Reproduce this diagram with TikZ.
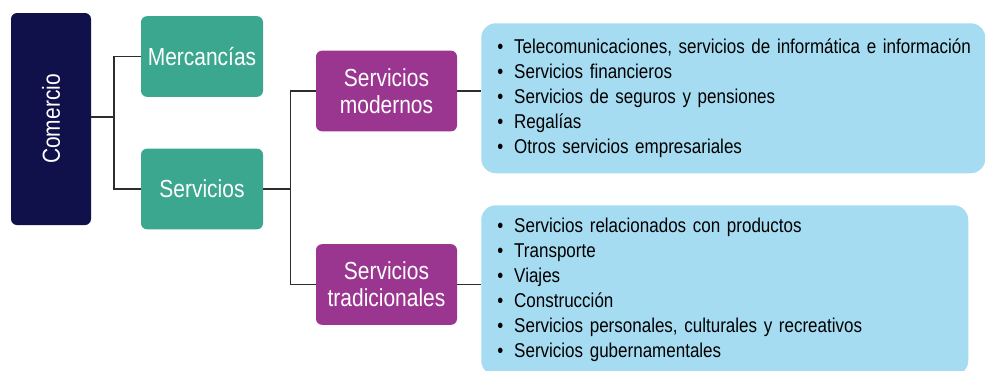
\documentclass[tikz,border=0pt]{standalone}
\usepackage{fontspec}
\setmainfont{Liberation Sans}[FakeStretch=0.85, WordSpace=0.8]
\usetikzlibrary{positioning,calc}
\definecolor{NavyColor}{RGB}{16,16,75}
\definecolor{TealColor}{RGB}{59,167,143}
\definecolor{PurpleColor}{RGB}{155,54,144}
\definecolor{SkyColor}{RGB}{166,220,241}
\definecolor{LineGray}{RGB}{45,45,45}
\newcommand{\bul}{\hspace*{6pt}\textbullet\hspace{0.55em}}
\tikzset{
  catbox/.style={rounded corners=4.5pt, text=white, align=center, inner sep=0pt,
    font=\fontsize{18.5}{20.25}\selectfont},
  tealbox/.style={catbox, fill=TealColor, minimum width=91.5pt, minimum height=60.5pt},
  purplebox/.style={catbox, fill=PurpleColor, minimum width=105.75pt, minimum height=60.5pt},
  listbox/.style={rounded corners=11pt, fill=SkyColor, align=left, anchor=north west,
    inner xsep=6pt, inner ysep=0pt, font=\fontsize{15}{18.75}\selectfont},
  link/.style={draw=LineGray, line width=0.9pt}
}
\begin{document}
\begin{tikzpicture}[x=0.75pt, y=-0.75pt]
      \useasboundingbox (0,0) rectangle (985,371);
      \node[catbox, fill=NavyColor, minimum width=60pt, minimum height=159pt] (comercio) at (51,119)
        {\rotatebox{90}{Comercio}};
      \node[tealbox] (merc) at (202,56.5) {Mercancías};
      \node[tealbox] (serv) at (202,189) {Servicios};
      \node[purplebox] (modern) at (386.5,91) {Servicios\\modernos};
      \node[purplebox] (trad) at (386.5,284.5) {Servicios\\tradicionales};
      \node[listbox, minimum width=378pt, minimum height=112.5pt, text width=366pt] (listA) at (481,23)
        {\bul Telecomunicaciones, servicios de informática e información\\
         \bul Servicios financieros\\
         \bul Servicios de seguros y pensiones\\
         \bul Regalías\\
         \bul Otros servicios empresariales};
      \node[listbox, minimum width=365.25pt, minimum height=127.5pt, text width=353.25pt] (listB) at (481,205)
        {\bul Servicios relacionados con productos\\
         \bul Transporte\\
         \bul Viajes\\
         \bul Construcción\\
         \bul Servicios personales, culturales y recreativos\\
         \bul Servicios gubernamentales};
      \coordinate (jA) at (114,117);
      \draw[link] (comercio.east |- jA) -- (jA);
      \draw[link] (merc.west) -| (jA) |- (serv.west);
      \draw[link] (serv.east) -- ++(27,0) coordinate (jB);
      \draw[link] (modern.west) -| (jB) |- (trad.west);
      \draw[link] (modern.east) -- (modern.east -| listA.west);
      \draw[link] (trad.east) -- (trad.east -| listB.west);
    \end{tikzpicture}
\end{document}
